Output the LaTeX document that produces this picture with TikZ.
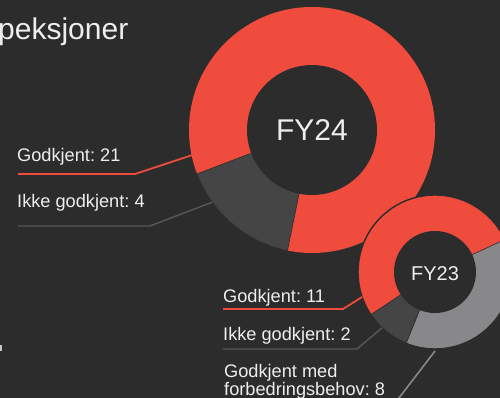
\documentclass[tikz,border=0pt]{standalone}
\usepackage{fontspec}
\setmainfont{Liberation Sans}
\usepackage{xcolor}
\usetikzlibrary{calc}
\frenchspacing

\definecolor{bgdark}{HTML}{2C2C2C}
\definecolor{fyred}{HTML}{EF4C3D}
\definecolor{segdark}{HTML}{454545}
\definecolor{seglight}{HTML}{88888B}
\definecolor{txtwhite}{HTML}{EEEEEE}

\begin{document}
\begin{tikzpicture}[x=1pt, y=-1pt,
  every node/.style={text=txtwhite, inner sep=0pt},
  lbl/.style={font=\fontsize{18.2}{18}\selectfont, anchor=base west, align=left},
  redlead/.style={draw=fyred, line width=1.8pt},
  darklead/.style={draw=segdark!90!white, line width=1.4pt},
  lightlead/.style={draw=seglight, line width=1.6pt}]
\useasboundingbox (0,0) rectangle (500,398);
\fill[bgdark] (0,0) rectangle (500,398);
\clip (0,0) rectangle (500,398);

\node[font=\fontsize{30}{30}\selectfont, anchor=base west] (title) at (-2,40) {peksjoner};
\fill[txtwhite!80!bgdark] (0,345) rectangle (1.5,351);

% donut centres
\coordinate (c24) at (312,130);
\coordinate (c23) at (435,272);

% FY24
\fill[fyred] (c24) circle[radius=123];
\filldraw[fill=segdark, draw=bgdark, line width=0.6pt] (c24) -- ++(101.5:123) arc[start angle=101.5, end angle=159.1, radius=123] -- cycle;
\fill[bgdark] (c24) circle[radius=65];
\node[font=\fontsize{30}{30}\selectfont] (fy24) at (c24) {FY24};

% FY23
\fill[fyred] (c23) circle[radius=77];
\filldraw[fill=seglight, draw=bgdark, line width=0.6pt] (c23) -- ++(-25:77) arc[start angle=-25, end angle=112.1, radius=77] -- cycle;
\filldraw[fill=segdark, draw=bgdark, line width=0.6pt] (c23) -- ++(112.1:77) arc[start angle=112.1, end angle=146.4, radius=77] -- cycle;
\draw[bgdark, line width=1.4pt] (c23) circle[radius=77];
\fill[bgdark] (c23) circle[radius=41];
\node[font=\fontsize{20}{20}\selectfont] (fy23) at ($(c23)+(0,1.5)$) {FY23};

% labels
\node[lbl] (g21) at (17,161) {Godkjent: 21};
\node[lbl] (ik4) at (17,207) {Ikke godkjent: 4};
\node[lbl] (g11) at (223,302) {Godkjent: 11};
\node[lbl] (ik2) at (223,340) {Ikke godkjent: 2};
\node[lbl] (gmf) at (224,395) {Godkjent med\\forbedringsbehov: 8};

% leaders
\coordinate (g21a) at (18,174);
\coordinate (g21b) at (135,174);
\coordinate (g21c) at ($(c24)+(168.2:122)$);
\draw[redlead] (g21a) -- (g21b) -- (g21c);
\coordinate (ik4a) at (18,226);
\coordinate (ik4b) at (150,226);
\coordinate (ik4c) at ($(c24)+(144.1:123)$);
\draw[darklead] (ik4a) -- (ik4b) -- (ik4c);
\coordinate (g11a) at (223,309);
\coordinate (g11b) at (343,309);
\coordinate (g11c) at ($(c23)+(161.1:77)$);
\draw[redlead] (g11a) -- (g11b) -- (g11c);
\coordinate (ik2a) at (223,349);
\coordinate (ik2b) at (357,349);
\coordinate (ik2c) at ($(c23)+(133.5:77)$);
\draw[darklead] (ik2a) -- (ik2b) -- (ik2c);
\coordinate (gmfa) at ($(c23)+(90:79)$);
\coordinate (gmfb) at (379,424);
\draw[lightlead] (gmfa) -- (gmfb);
\end{tikzpicture}
\end{document}
